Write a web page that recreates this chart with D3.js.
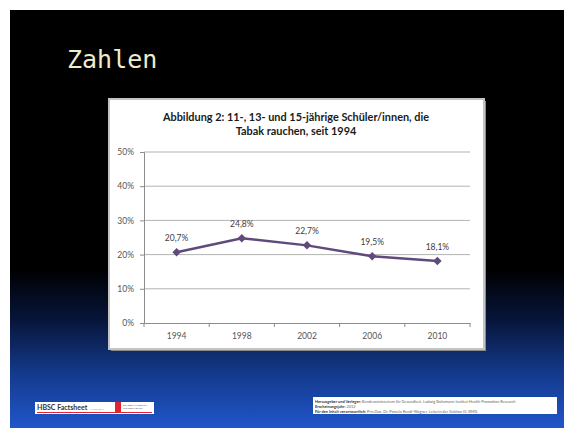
<!DOCTYPE html>
<html><head><meta charset="utf-8">
<script src="https://cdn.jsdelivr.net/npm/d3@7"></script>
<style>html,body{margin:0;padding:0;background:#fff;}svg{display:block;}</style>
</head><body>
<svg id="c" width="564" height="428"></svg>
<script>
const years = ["1994", "1998", "2002", "2006", "2010"];
const values = [0.207, 0.248, 0.227, 0.195, 0.181];
const valueLabels = ["20,7%", "24,8%", "22,7%", "19,5%", "18,1%"];
const yTicks = [0, 0.1, 0.2, 0.3, 0.4, 0.5];
const slideTitle = "Zahlen";
const chartTitle = ["Abbildung 2: 11-, 13- und 15-jährige Schüler/innen, die", "Tabak rauchen, seit 1994"];
const footerRight = [
  ["Herausgeber und Verleger: ", "Bundesministerium für Gesundheit, Ludwig Boltzmann Institut Health Promotion Research"],
  ["Erscheinungsjahr: ", "2012"],
  ["Für den Inhalt verantwortlich: ", "Priv.Doz. Dr. Pamela Rendi-Wagner, Leiterin der Sektion III, BMG"]
];

const svg = d3.select("#c");
const defs = svg.append("defs");
const grad = defs.append("linearGradient").attr("id","bg").attr("x1",0).attr("y1",0).attr("x2",0).attr("y2",1);
[[0,"#000000"],[0.62,"#000000"],[0.74,"#07153a"],[0.87,"#143a8c"],[1,"#2056ca"]].forEach(s=>grad.append("stop").attr("offset",s[0]).attr("stop-color",s[1]));

// slide background
svg.append("rect").attr("x",10).attr("y",10).attr("width",554).attr("height",418).attr("fill","url(#bg)");

// slide title
svg.append("text").attr("x",67).attr("y",68).attr("font-family","'DejaVu Sans Mono', 'Liberation Mono', monospace")
  .attr("font-size",25).attr("fill","#efeccc").text(slideTitle);

// chart frame
svg.append("rect").attr("x",111).attr("y",101).attr("width",375).attr("height",250).attr("fill","#8a8a8a");
svg.append("rect").attr("x",109).attr("y",99).attr("width",375).attr("height",250).attr("fill","#ffffff")
  .attr("stroke","#c4c4c4").attr("stroke-width",2);

const g = svg.append("g");
g.selectAll("text.t").data(chartTitle).join("text").attr("class","t")
  .attr("x",296).attr("y",(d,i)=>121+i*14).attr("text-anchor","middle")
  .attr("font-family","Lato, 'Open Sans', sans-serif").attr("font-weight","bold").attr("font-size",10.9)
  .attr("fill","#1a1a1a").text(d=>d);

const x = d3.scaleBand().domain(years).range([144,470]);
const y = d3.scaleLinear().domain([0,0.5]).range([323,152]);

// gridlines
g.selectAll("line.grid").data(yTicks.slice(1)).join("line").attr("class","grid")
  .attr("x1",144).attr("x2",470).attr("y1",d=>y(d)).attr("y2",d=>y(d))
  .attr("stroke","#b3b3b3").attr("stroke-width",1);

// y axis
const yAxis = g.append("g").attr("transform","translate(144,0)")
  .call(d3.axisLeft(y).tickValues(yTicks).tickFormat(d=>Math.round(d*100)+"%").tickSize(4).tickPadding(6));
yAxis.select(".domain").attr("stroke","#8c8c8c");
yAxis.selectAll(".tick line").attr("stroke","#8c8c8c");
yAxis.selectAll("text").attr("font-family","Lato, 'Open Sans', sans-serif").attr("font-size",8.5).attr("fill","#555");

// x axis
const xAxis = g.append("g").attr("transform","translate(0,323)")
  .call(d3.axisBottom(x).tickSize(0).tickPadding(10));
xAxis.select(".domain").attr("stroke","#8c8c8c");
xAxis.selectAll("text").attr("font-family","Lato, 'Open Sans', sans-serif").attr("font-size",8.5).attr("fill","#555");
g.selectAll("line.xt").data(years.slice(1).concat(["end"])).join("line").attr("class","xt")
  .attr("x1",(d,i)=>x.range()[0]+x.step()*(i+1)).attr("x2",(d,i)=>x.range()[0]+x.step()*(i+1))
  .attr("y1",323).attr("y2",327).attr("stroke","#8c8c8c");
g.append("line").attr("x1",144).attr("x2",144).attr("y1",323).attr("y2",327).attr("stroke","#8c8c8c");

// line
const line = d3.line().x((d,i)=>x(years[i])+x.bandwidth()/2).y(d=>y(d));
g.append("path").datum(values).attr("d",line).attr("fill","none").attr("stroke","#604a7b").attr("stroke-width",2.5);
g.selectAll("path.m").data(values).join("path").attr("class","m")
  .attr("d",d3.symbol().type(d3.symbolSquare).size(36))
  .attr("transform",(d,i)=>`translate(${x(years[i])+x.bandwidth()/2},${y(d)}) rotate(45)`)
  .attr("fill","#604a7b");
g.selectAll("text.v").data(values).join("text").attr("class","v")
  .attr("x",(d,i)=>x(years[i])+x.bandwidth()/2).attr("y",d=>y(d)-11).attr("text-anchor","middle")
  .attr("font-family","Lato, 'Open Sans', sans-serif").attr("font-size",8.5).attr("fill","#404040")
  .text((d,i)=>valueLabels[i]);

// footer left
const fl = svg.append("g");
fl.append("rect").attr("x",35).attr("y",402).attr("width",119).attr("height",12).attr("fill","#fff");
fl.append("text").attr("x",37).attr("y",410).attr("font-family","Lato, sans-serif").attr("font-weight","bold").attr("font-size",7).attr("fill","#333").text("HBSC Factsheet");
fl.append("text").attr("x",90).attr("y",410).attr("font-family","Lato, sans-serif").attr("font-size",2.5).attr("fill","#888").text("Nr. 02/2012");
fl.append("rect").attr("x",115).attr("y",402).attr("width",6).attr("height",10).attr("fill","#e0252f");
fl.append("text").attr("x",123).attr("y",406).attr("font-family","Lato, sans-serif").attr("font-size",2.3).attr("fill","#555").text("BUNDESMINISTERIUM");
fl.append("text").attr("x",123).attr("y",409).attr("font-family","Lato, sans-serif").attr("font-size",2.3).attr("fill","#555").text("FÜR GESUNDHEIT");
fl.append("rect").attr("x",37).attr("y",412).attr("width",115).attr("height",1).attr("fill","#e0252f");

// footer right
const fr = svg.append("g");
fr.append("rect").attr("x",313).attr("y",397).attr("width",244).attr("height",17).attr("fill","#fff");
const ft = fr.selectAll("text").data(footerRight).join("text").attr("x",315).attr("y",(d,i)=>402.5+i*5)
  .attr("font-family","Lato, sans-serif").attr("font-size",3.9).attr("fill","#333");
ft.append("tspan").attr("font-weight","bold").text(d=>d[0]);
ft.append("tspan").attr("fill","#666").text(d=>d[1]);
</script>
</body></html>
